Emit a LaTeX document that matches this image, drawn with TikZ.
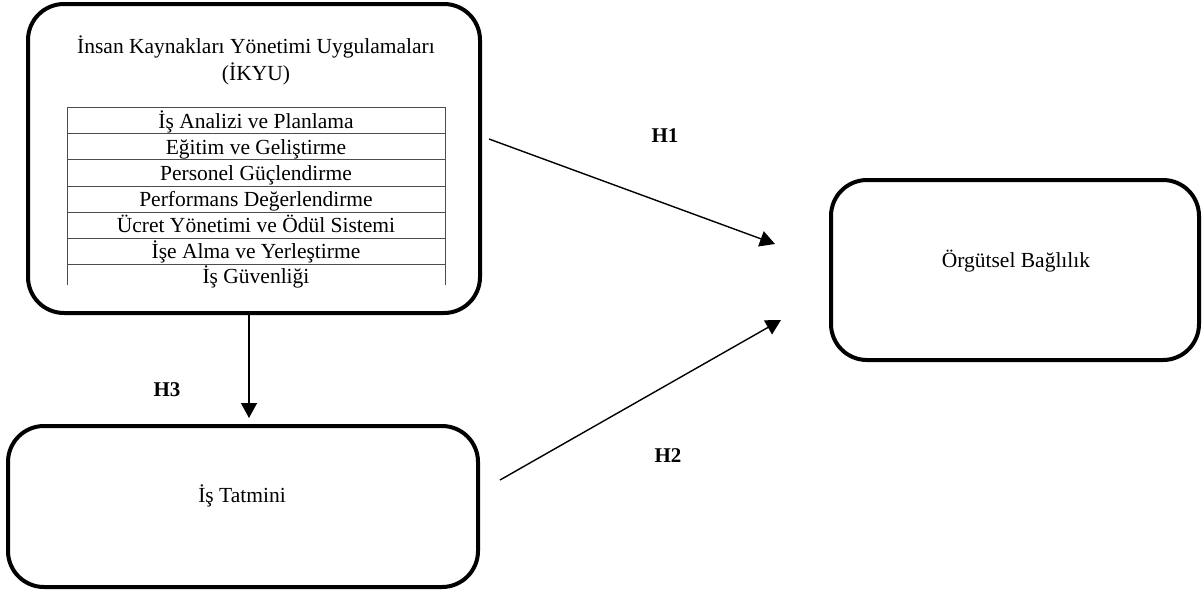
\documentclass[tikz,border=0pt]{standalone}
\usepackage{fontspec}
\setmainfont{Liberation Serif}
\usetikzlibrary{arrows.meta}
\begin{document}
\begin{tikzpicture}[x=1pt,y=-1pt,
  box/.style={draw=black, line width=4pt, rounded corners=36pt, inner sep=0pt},
  txt/.style={font=\fontsize{21.5}{27}\selectfont, inner sep=0pt, anchor=base},
  hlab/.style={font=\fontsize{21}{24}\selectfont\bfseries, inner sep=0pt, anchor=base},
  rowline/.style={draw=black!70, line width=1pt},
  arr/.style={line width=1.4pt, -{Triangle[length=15pt,width=16pt]}}
]
\useasboundingbox (0,0) rectangle (1203,592);
% boxes
\node[box, minimum width=452pt, minimum height=309pt] (ikyu) at (254,158.5) {};
\node[box, minimum width=368pt, minimum height=180pt] (ob) at (1015,270) {};
\node[box, minimum width=470pt, minimum height=161pt] (it) at (243,506.5) {};
% titles
\node[txt] (title1) at (256,53) {İnsan Kaynakları Yönetimi Uygulamaları};
\node[txt] (title2) at (256,80) {(İKYU)};
\node[txt] (obt) at (1016,267) {Örgütsel Bağlılık};
\node[txt] (itt) at (242,502) {İş Tatmini};
% table
\foreach \y in {107,133,159,186,212,238,264} \draw[rowline] (67,\y) -- (445,\y);
\draw[rowline] (67,107) -- (67,285);
\draw[rowline] (445,107) -- (445,285);
\node[txt] (r1) at (256,128) {İş Analizi ve Planlama};
\node[txt] (r2) at (256,154) {Eğitim ve Geliştirme};
\node[txt] (r3) at (256,180) {Personel Güçlendirme};
\node[txt] (r4) at (256,206) {Performans Değerlendirme};
\node[txt] (r5) at (256,232) {Ücret Yönetimi ve Ödül Sistemi};
\node[txt] (r6) at (256,258) {İşe Alma ve Yerleştirme};
\node[txt] (r7) at (256,283) {İş Güvenliği};
% arrows
\coordinate (h1s) at (489,139);
\coordinate (h1e) at (775,244);
\coordinate (h2s) at (500,480);
\coordinate (h2e) at (781,320);
\coordinate (h3s) at (249,315);
\coordinate (h3e) at (249,418);
\draw[arr] (h1s) -- (h1e);
\draw[arr] (h2s) -- (h2e);
\draw[arr] (h3s) -- (h3e);
% labels
\node[hlab] (H1) at (665,142) {H1};
\node[hlab] (H2) at (668,462) {H2};
\node[hlab] (H3) at (167,396) {H3};
\end{tikzpicture}
\end{document}
